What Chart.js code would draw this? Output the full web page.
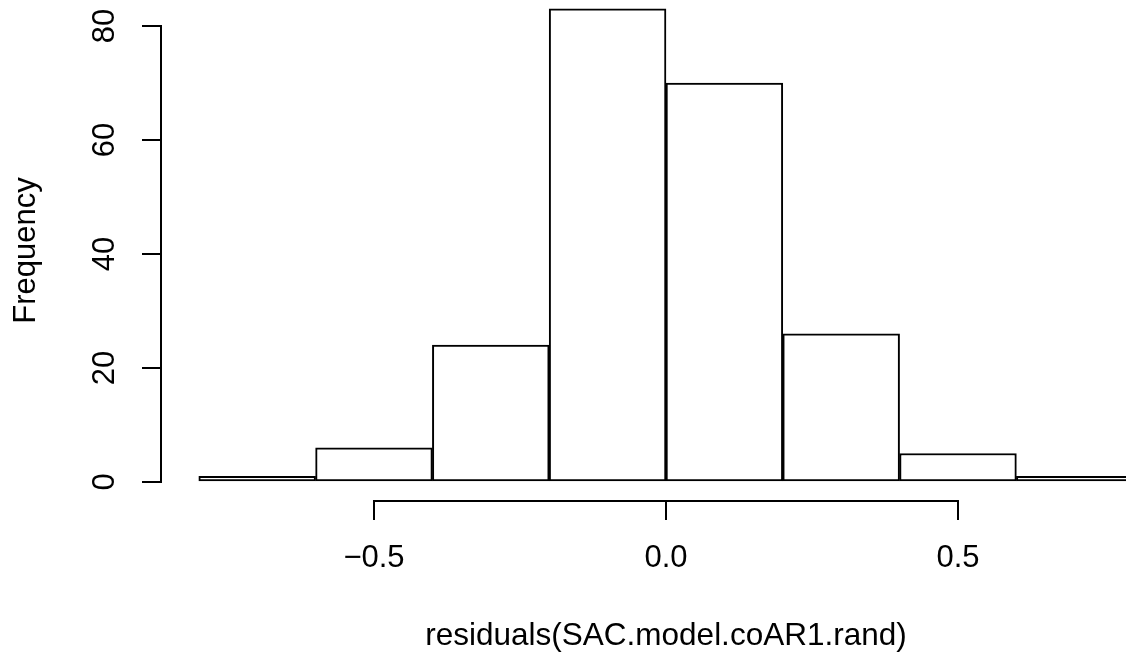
<!DOCTYPE html>
<html>
<head>
<meta charset="utf-8">
<script src="https://cdn.jsdelivr.net/npm/chart.js@4/dist/chart.umd.min.js"></script>
<style>
  html, body { margin: 0; padding: 0; background: #ffffff; }
  #wrap { width: 1126px; height: 655px; }
</style>
</head>
<body>
<div id="wrap"><canvas id="c" width="1126" height="655"></canvas></div>
<script>
// Histogram data: bin edges and counts
const binStarts = [-0.8, -0.6, -0.4, -0.2, 0.0, 0.2, 0.4, 0.6];
const binWidth = 0.2;
const counts = [1, 6, 24, 83, 70, 26, 5, 1];
const xTicks = [-0.5, 0.0, 0.5];
const xTickLabels = ['\u22120.5', '0.0', '0.5'];
const yTicks = [0, 20, 40, 60, 80];
const xTitle = 'residuals(SAC.model.coAR1.rand)';
const yTitle = 'Frequency';

const FONT = "'Liberation Sans', Arial, Helvetica, sans-serif";
const LW = 2;
const FS = 31;

const points = binStarts.map((s, i) => ({ x: s + binWidth / 2, y: counts[i] }));

const rAxes = {
  id: 'rAxes',
  afterDraw(chart) {
    const ctx = chart.ctx;
    const xs = chart.scales.x, ys = chart.scales.y;
    ctx.save();
    ctx.strokeStyle = '#000';
    ctx.lineWidth = LW;
    ctx.lineCap = 'square';
    const ax = ys.right;
    ctx.beginPath();
    ctx.moveTo(ax, ys.getPixelForValue(yTicks[0]));
    ctx.lineTo(ax, ys.getPixelForValue(yTicks[yTicks.length - 1]));
    ctx.stroke();
    const ay = xs.top;
    ctx.beginPath();
    ctx.moveTo(xs.getPixelForValue(xTicks[0]), ay);
    ctx.lineTo(xs.getPixelForValue(xTicks[xTicks.length - 1]), ay);
    ctx.stroke();
    // x axis title, centred on the plot region (value 0)
    ctx.fillStyle = '#000';
    ctx.font = '31.5px ' + FONT;
    ctx.textAlign = 'center';
    ctx.textBaseline = 'alphabetic';
    ctx.fillText(xTitle, xs.getPixelForValue(0), 645);
    ctx.restore();
  }
};

new Chart(document.getElementById('c'), {
  type: 'bar',
  data: {
    datasets: [{
      data: points,
      backgroundColor: '#ffffff',
      borderColor: '#000000',
      borderWidth: LW,
      borderSkipped: false,
      barPercentage: 1.0,
      categoryPercentage: 1.0
    }]
  },
  options: {
    responsive: false,
    animation: false,
    devicePixelRatio: 1,
    layout: { padding: 0 },
    plugins: { legend: { display: false }, tooltip: { enabled: false } },
    scales: {
      x: {
        type: 'linear',
        offset: false,
        min: -0.8647,
        max: 0.7877,
        afterBuildTicks(scale) { scale.ticks = xTicks.map(v => ({ value: v })); },
        afterFit(scale) { scale.height = 154; scale.paddingLeft = 0; scale.paddingRight = 0; },
        ticks: {
          color: '#000',
          font: { family: FONT, size: FS },
          padding: 20,
          maxRotation: 0,
          minRotation: 0,
          autoSkip: false,
          callback(v) { const i = xTicks.indexOf(v); return i >= 0 ? xTickLabels[i] : ''; }
        },
        grid: {
          display: true,
          offset: false,
          drawOnChartArea: false,
          drawTicks: true,
          tickLength: 19,
          tickColor: '#000',
          tickWidth: LW,
          color: '#000',
          lineWidth: LW
        },
        border: { display: false },
        title: { display: false }
      },
      y: {
        type: 'linear',
        min: -3.3333,
        max: 84.5614,
        afterBuildTicks(scale) { scale.ticks = yTicks.map(v => ({ value: v })); },
        afterFit(scale) { scale.width = 161; scale.paddingTop = 0; scale.paddingBottom = 0; },
        ticks: {
          color: '#000',
          font: { family: FONT, size: FS },
          padding: 19,
          minRotation: 90,
          maxRotation: 90,
          crossAlign: 'center',
          autoSkip: false
        },
        grid: {
          display: true,
          drawOnChartArea: false,
          drawTicks: true,
          tickLength: 19,
          tickColor: '#000',
          tickWidth: LW,
          color: '#000',
          lineWidth: LW
        },
        border: { display: false },
        title: {
          display: true,
          text: yTitle,
          color: '#000',
          font: { family: FONT, size: FS },
          padding: { top: 8, bottom: 0 }
        }
      }
    }
  },
  plugins: [rAxes]
});
</script>
</body>
</html>
